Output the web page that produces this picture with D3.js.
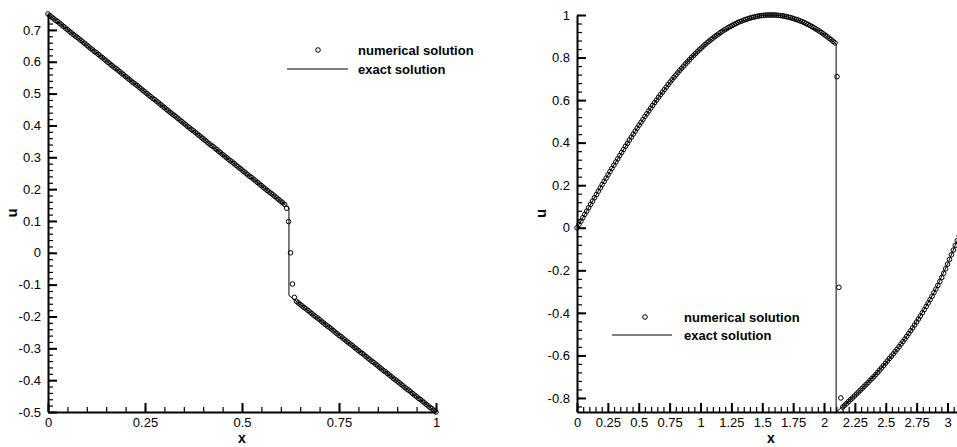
<!DOCTYPE html>
<html>
<head>
<meta charset="utf-8">
<script src="https://cdn.jsdelivr.net/npm/d3@7"></script>
<style>
  body { margin: 0; background: #fff; }
  text { font-family: Arial, "Liberation Sans", sans-serif; }
</style>
</head>
<body>
<svg id="chart" width="957" height="447"></svg>
<script>
  // ---- left panel data (mesh step 0.005 on [0,1]) ----
  var leftStep = 0.005;
  var leftNumU = [
    0.750,0.745,0.740,0.735,0.730,0.726,0.721,0.716,0.711,0.706,
    0.701,0.696,0.691,0.686,0.681,0.677,0.672,0.667,0.662,0.657,
    0.652,0.647,0.642,0.637,0.632,0.628,0.623,0.618,0.613,0.608,
    0.603,0.598,0.593,0.588,0.583,0.579,0.574,0.569,0.564,0.559,
    0.554,0.549,0.544,0.539,0.534,0.530,0.525,0.520,0.515,0.510,
    0.505,0.500,0.495,0.490,0.485,0.481,0.476,0.471,0.466,0.461,
    0.456,0.451,0.446,0.441,0.436,0.432,0.427,0.422,0.417,0.412,
    0.407,0.402,0.397,0.392,0.387,0.383,0.378,0.373,0.368,0.363,
    0.358,0.353,0.348,0.343,0.338,0.334,0.329,0.324,0.319,0.314,
    0.309,0.304,0.299,0.294,0.289,0.285,0.280,0.275,0.270,0.265,
    0.260,0.255,0.250,0.245,0.240,0.236,0.231,0.226,0.221,0.216,
    0.211,0.206,0.201,0.196,0.191,0.187,0.182,0.177,0.172,0.167,
    0.162,0.157,0.152,0.140,0.098,0.000,-0.098,-0.140,
    -0.152,-0.157,-0.162,-0.167,-0.172,-0.176,-0.181,-0.186,-0.191,-0.196,
    -0.201,-0.205,-0.210,-0.215,-0.220,-0.225,-0.230,-0.234,-0.239,-0.244,
    -0.249,-0.254,-0.259,-0.263,-0.268,-0.273,-0.278,-0.283,-0.287,-0.292,
    -0.297,-0.302,-0.307,-0.312,-0.316,-0.321,-0.326,-0.331,-0.336,-0.341,
    -0.345,-0.350,-0.355,-0.360,-0.365,-0.370,-0.374,-0.379,-0.384,-0.389,
    -0.394,-0.399,-0.403,-0.408,-0.413,-0.418,-0.423,-0.428,-0.432,-0.437,
    -0.442,-0.447,-0.452,-0.457,-0.461,-0.466,-0.471,-0.476,-0.481,-0.486,
    -0.490,-0.495,-0.500
  ];
  var leftExactX = [0, 0.621, 0.621, 1];
  var leftExactU = [0.75, 0.141, -0.134, -0.5];
  var leftXTicks = [0, 0.25, 0.5, 0.75, 1];
  var leftYTicks = [-0.5, -0.4, -0.3, -0.2, -0.1, 0, 0.1, 0.2, 0.3, 0.4, 0.5, 0.6, 0.7];

  // ---- right panel data (mesh step pi/200 on [0,pi]) ----
  var rightStep = Math.PI / 200;
  var rightNumU = [
    0.000,0.016,0.031,0.047,0.063,0.078,0.094,0.110,0.125,0.141,
    0.156,0.172,0.187,0.203,0.218,0.233,0.249,0.264,0.279,0.294,
    0.309,0.324,0.339,0.354,0.368,0.383,0.397,0.412,0.426,0.440,
    0.454,0.468,0.482,0.496,0.509,0.523,0.536,0.549,0.562,0.575,
    0.588,0.600,0.613,0.625,0.637,0.649,0.661,0.673,0.685,0.696,
    0.707,0.718,0.729,0.740,0.750,0.760,0.771,0.780,0.790,0.800,
    0.809,0.818,0.827,0.836,0.844,0.853,0.861,0.869,0.876,0.884,
    0.891,0.898,0.905,0.911,0.918,0.924,0.930,0.935,0.941,0.946,
    0.951,0.956,0.960,0.965,0.969,0.972,0.976,0.979,0.982,0.985,
    0.988,0.990,0.992,0.994,0.996,0.997,0.998,0.999,1.000,1.000,
    1.000,1.000,1.000,0.999,0.998,0.997,0.996,0.994,0.992,0.990,
    0.988,0.985,0.982,0.979,0.976,0.972,0.969,0.965,0.960,0.956,
    0.951,0.946,0.941,0.935,0.930,0.924,0.918,0.911,0.905,0.898,
    0.891,0.884,0.876,0.869,
    0.710,-0.280,-0.800,
    -0.843,-0.834,-0.826,-0.817,-0.808,-0.800,-0.791,-0.782,-0.773,-0.764,
    -0.755,-0.746,-0.737,-0.728,-0.718,-0.709,-0.700,-0.690,-0.680,-0.669,
    -0.659,-0.648,-0.637,-0.626,-0.615,-0.604,-0.593,-0.582,-0.571,-0.559,
    -0.547,-0.535,-0.523,-0.510,-0.497,-0.484,-0.471,-0.457,-0.443,-0.429,
    -0.415,-0.400,-0.385,-0.370,-0.354,-0.338,-0.322,-0.305,-0.288,-0.271,
    -0.253,-0.234,-0.214,-0.193,-0.171,-0.149,-0.127,-0.105,-0.083,-0.061,
    -0.039,-0.017,0.005,0.027
  ];
  var rightExactX = [0,0.1,0.2,0.3,0.4,0.5,0.6,0.7,0.8,0.9,1.0,1.1,1.2,1.3,1.4,1.5,1.6,1.7,1.8,1.9,2.0,2.098,
                     2.098,2.2,2.3,2.4,2.5,2.6,2.7,2.8,2.9,3.0,3.1,3.142];
  var rightExactU = [0,0.100,0.199,0.296,0.389,0.479,0.565,0.644,0.717,0.783,0.842,0.891,0.932,0.964,0.985,0.998,1.000,0.992,0.974,0.946,0.909,0.864,
                     -0.866,-0.817,-0.760,-0.700,-0.636,-0.565,-0.486,-0.395,-0.295,-0.171,-0.030,0.027];
  var rightXTicks = [0,0.25,0.5,0.75,1,1.25,1.5,1.75,2,2.25,2.5,2.75,3];
  var rightYTicks = [-0.8,-0.6,-0.4,-0.2,0,0.2,0.4,0.6,0.8,1];

  var legendLabels = ["numerical solution", "exact solution"];

  var svg = d3.select("#chart");

  function fmt(d){ return String(+d.toFixed(2)); }

  function drawPanel(p){
    var x = d3.scaleLinear().domain(p.xDomain).range([p.left, p.left + p.width]);
    var y = d3.scaleLinear().domain(p.yDomain).range([p.top + p.height, p.top]);
    var g = svg.append("g");

    // minor ticks
    var xMinor = d3.range(Math.round(p.xDomain[0]/p.xMinor), Math.floor(p.xDomain[1]/p.xMinor + 1e-6) + 1)
      .map(function(i){ return +(i*p.xMinor).toFixed(4); });
    var yMinor = d3.range(Math.ceil(p.yDomain[0]/p.yMinor - 1e-6), Math.floor(p.yDomain[1]/p.yMinor + 1e-6) + 1)
      .map(function(i){ return +(i*p.yMinor).toFixed(4); });

    g.append("g").attr("transform", "translate(0," + (p.top + p.height) + ")")
      .call(d3.axisBottom(x).tickValues(xMinor).tickSize(-5).tickFormat(""))
      .call(function(s){ s.select(".domain").remove(); s.selectAll("line").attr("stroke-width", 1.2); });
    g.append("g").attr("transform", "translate(" + p.left + ",0)")
      .call(d3.axisLeft(y).tickValues(yMinor).tickSize(-5).tickFormat(""))
      .call(function(s){ s.select(".domain").remove(); s.selectAll("line").attr("stroke-width", 1.2); });

    // major ticks + labels
    var ax = g.append("g").attr("transform", "translate(0," + (p.top + p.height) + ")")
      .call(d3.axisBottom(x).tickValues(p.xTicks).tickSize(-9).tickSizeOuter(0).tickPadding(6).tickFormat(fmt));
    var ay = g.append("g").attr("transform", "translate(" + p.left + ",0)")
      .call(d3.axisLeft(y).tickValues(p.yTicks).tickSize(-9).tickSizeOuter(0).tickPadding(7).tickFormat(fmt));
    [ax, ay].forEach(function(a){
      a.attr("font-family", null).attr("font-size", null);
      a.select(".domain").attr("stroke-width", 2);
      a.selectAll(".tick line").attr("stroke-width", 2);
      a.selectAll("text").style("font-size", "13px").attr("fill", "#000");
    });

    // exact solution
    var line = d3.line().x(function(d){ return x(d[0]); }).y(function(d){ return y(d[1]); });
    var exact = p.exactX.map(function(v, i){ return [v, p.exactU[i]]; });
    g.append("path").datum(exact).attr("d", line)
      .attr("fill", "none").attr("stroke", "#000").attr("stroke-width", 1);

    // numerical solution
    g.append("g").selectAll("circle").data(p.numU).enter().append("circle")
      .attr("cx", function(d, i){ return x(i * p.step); })
      .attr("cy", function(d){ return y(d); })
      .attr("r", 2.3)
      .attr("fill", "none").attr("stroke", "#000").attr("stroke-width", 1);

    // axis titles
    g.append("text").attr("x", p.left + p.width/2).attr("y", 443)
      .attr("text-anchor", "middle").style("font-size", "14px").style("font-weight", "bold").text("x");
    g.append("text").attr("transform", "translate(" + (p.left - 36) + "," + (p.top + p.height/2) + ") rotate(-90)")
      .attr("text-anchor", "middle").attr("dy", "0.35em")
      .style("font-size", "15px").style("font-weight", "bold").text("u");

    // legend
    var L = p.legend;
    g.append("circle").attr("cx", L.cx).attr("cy", L.y1).attr("r", 2.3)
      .attr("fill", "none").attr("stroke", "#000").attr("stroke-width", 1);
    g.append("line").attr("x1", L.lx1).attr("x2", L.lx2).attr("y1", L.y2).attr("y2", L.y2)
      .attr("stroke", "#000").attr("stroke-width", 1);
    g.selectAll(".leg").data(legendLabels).enter().append("text")
      .attr("x", L.tx).attr("y", function(d, i){ return i ? L.y2 : L.y1; })
      .attr("dy", "0.35em").style("font-size", "13px").style("font-weight", "bold").text(function(d){ return d; });
  }

  drawPanel({
    left: 48, top: 14, width: 388, height: 398,
    xDomain: [0, 1], yDomain: [-0.5, 0.75],
    xTicks: leftXTicks, yTicks: leftYTicks, xMinor: 0.05, yMinor: 0.02,
    step: leftStep, numU: leftNumU, exactX: leftExactX, exactU: leftExactU,
    legend: { cx: 318, lx1: 287, lx2: 348, tx: 358, y1: 50, y2: 69 }
  });

  drawPanel({
    left: 577, top: 15, width: 388, height: 397,
    xDomain: [0, Math.PI], yDomain: [-0.866, 1],
    xTicks: rightXTicks, yTicks: rightYTicks, xMinor: 0.05, yMinor: 0.04,
    step: rightStep, numU: rightNumU, exactX: rightExactX, exactU: rightExactU,
    legend: { cx: 645, lx1: 612, lx2: 672, tx: 684, y1: 317, y2: 335 }
  });
</script>
</body>
</html>
